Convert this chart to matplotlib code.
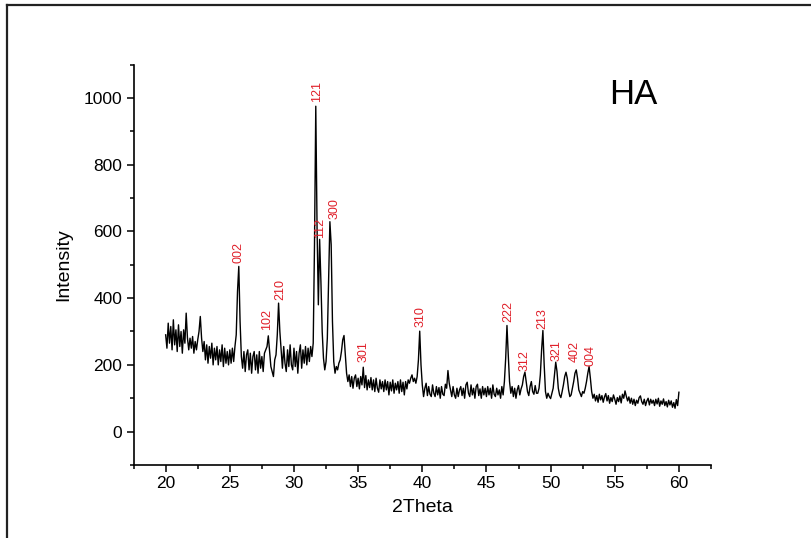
import numpy as np
import matplotlib
matplotlib.use('Agg')
import matplotlib.pyplot as plt
from matplotlib.ticker import MultipleLocator
from matplotlib.lines import Line2D

plt.rcParams['font.family'] = ['Liberation Sans', 'DejaVu Sans']

# XRD scan, 20-60 deg, step 0.1
two_theta = np.linspace(20, 60, 401)

# intensity, one row per degree
intensity = [
    290, 250, 325, 265, 315, 245, 335, 260, 305, 240,   # 20
    320, 255, 300, 235, 305, 265, 355, 280, 245, 280,   # 21
    250, 285, 235, 270, 245, 275, 300, 345, 280, 240,   # 22
    270, 215, 260, 205, 255, 220, 265, 200, 250, 215,   # 23
    255, 200, 245, 210, 260, 195, 250, 205, 240, 200,   # 24
    245, 205, 250, 210, 255, 290, 420, 495, 330, 225,   # 25
    190, 240, 180, 230, 245, 185, 235, 175, 225, 240,   # 26
    185, 230, 175, 240, 190, 225, 180, 235, 245, 255,   # 27
    287, 240, 195, 180, 165, 215, 230, 290, 385, 300,   # 28
    245, 190, 255, 205, 180, 245, 195, 260, 200, 185,   # 29
    250, 195, 240, 175, 235, 260, 190, 245, 205, 255,   # 30
    200, 250, 210, 255, 225, 265, 560, 975, 610, 380,   # 31
    576, 450, 300, 220, 185, 210, 280, 450, 629, 560,   # 32
    330, 210, 175, 195, 185, 205, 215, 240, 275, 288,   # 33
    230, 175, 150, 170, 135, 165, 130, 160, 170, 135,   # 34
    160, 128, 165, 140, 193, 132, 168, 125, 155, 132,   # 35
    162, 125, 155, 120, 160, 130, 118, 155, 128, 150,   # 36
    120, 155, 125, 150, 110, 148, 122, 155, 115, 145,   # 37
    125, 150, 115, 155, 120, 148, 110, 150, 128, 155,   # 38
    145, 160, 170, 150, 160, 145, 165, 215, 301, 200,   # 39
    140, 105, 130, 145, 108, 135, 112, 105, 140, 115,   # 40
    105, 135, 110, 132, 100, 135, 112, 108, 142, 130,   # 41
    183, 145, 125, 105, 135, 110, 100, 130, 105, 125,   # 42
    135, 108, 130, 100, 140, 148, 115, 105, 140, 110,   # 43
    130, 100, 135, 142, 108, 128, 100, 135, 110, 130,   # 44
    105, 135, 110, 130, 100, 140, 112, 105, 130, 110,   # 45
    125, 100, 135, 110, 150, 220, 318, 230, 150, 115,   # 46
    135, 105, 130, 100, 125, 138, 110, 128, 140, 165,   # 47
    178, 150, 120, 108, 135, 150, 120, 112, 138, 115,   # 48
    115, 130, 170, 245, 303, 200, 120, 100, 115, 105,   # 49
    99, 115, 130, 170, 208, 180, 130, 110, 102, 120,    # 50
    140, 165, 178, 160, 125, 105, 110, 130, 150, 175,   # 51
    185, 160, 125, 115, 105, 120, 115, 130, 150, 175,   # 52
    195, 160, 120, 100, 112, 92, 108, 88, 112, 95,      # 53
    108, 88, 104, 114, 92, 108, 85, 102, 90, 110,       # 54
    97, 82, 102, 90, 107, 86, 112, 100, 122, 106,       # 55
    92, 104, 85, 100, 82, 97, 78, 94, 85, 102,          # 56
    107, 90, 82, 97, 78, 92, 100, 80, 97, 85,           # 57
    94, 78, 97, 83, 100, 76, 92, 82, 98, 78,            # 58
    90, 74, 94, 80, 92, 73, 87, 70, 96, 78,             # 59
    118,                                                # 60
]

# Miller indices of the labelled peaks
hkl = ['002', '102', '210', '121', '112', '300', '301', '310',
       '222', '312', '213', '321', '402', '004']
hkl_x = [25.7, 27.88, 28.9, 31.78, 32.04, 33.13, 35.41, 39.84,
         46.73, 47.95, 49.33, 50.5, 51.85, 53.1]
hkl_y = [505, 303, 393, 989, 580, 638, 208, 313,
         328, 183, 308, 213, 208, 198]

fig = plt.figure(figsize=(8.12, 5.38), dpi=100)
ax = fig.add_axes([0.1645, 0.1357, 0.7111, 0.7444])

ax.plot(two_theta, intensity, color='black', linewidth=1.0)

for lab, xx, yy in zip(hkl, hkl_x, hkl_y):
    ax.text(xx, yy, lab, color='#e0202a', fontsize=9, rotation=90,
            ha='center', va='bottom')

ax.text(54.6, 1010, 'HA', fontsize=25, ha='left', va='center')

ax.set_xlim(17.5, 62.5)
ax.set_ylim(-100, 1100)
ax.xaxis.set_major_locator(MultipleLocator(5))
ax.xaxis.set_minor_locator(MultipleLocator(2.5))
ax.yaxis.set_major_locator(MultipleLocator(200))
ax.yaxis.set_minor_locator(MultipleLocator(100))

ax.spines['top'].set_visible(False)
ax.spines['right'].set_visible(False)
for s in ['left', 'bottom']:
    ax.spines[s].set_linewidth(1.2)
ax.tick_params(which='major', direction='out', length=5, width=1.1,
               labelsize=12.5, pad=3)
ax.tick_params(which='minor', direction='out', length=3, width=1.1)

ax.set_xlabel('2Theta', fontsize=14, labelpad=6)
ax.set_ylabel('Intensity', fontsize=14, labelpad=8)

# border round the picture (only top and left show)
fig.add_artist(Line2D([0.0086, 0.0086], [0, 0.9907], color='#222222', linewidth=1.6))
fig.add_artist(Line2D([0.0086, 1], [0.9907, 0.9907], color='#222222', linewidth=1.6))

fig.savefig('out.png', dpi=100)
